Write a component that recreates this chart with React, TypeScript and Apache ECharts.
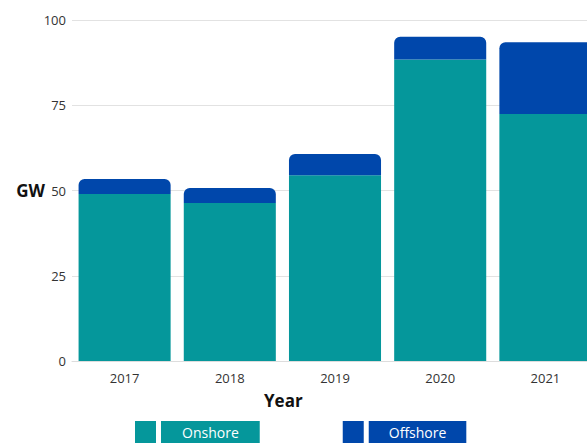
import React, { useEffect, useRef } from "react";
import * as echarts from "echarts";

const years = ["2017", "2018", "2019", "2020", "2021"];
const onshore = [49.0, 46.3, 54.5, 88.4, 72.4];
const offshore = [4.4, 4.4, 6.2, 6.7, 21.1];
const yTicks = { min: 0, max: 100, interval: 25 };

const TEAL = "#05979b";
const BLUE = "#0047ab";
const FONT = "Open Sans";

export default function App() {
  const ref = useRef<HTMLDivElement>(null);
  useEffect(() => {
    if (!ref.current) return;
    const chart = echarts.init(ref.current, null, { renderer: "svg" });
    chart.setOption({
      animation: false,
      textStyle: { fontFamily: FONT },
      grid: { left: 72, right: 22, top: 20, bottom: 82, containLabel: false },
      legend: {
        left: 130,
        top: 416,
        itemGap: 83,
        itemWidth: 21,
        itemHeight: 22,
        icon: "rect",
        data: [
          {
            name: "Onshore",
            textStyle: {
              color: "#fff",
              backgroundColor: TEAL,
              fontSize: 14,
              fontFamily: FONT,
              padding: [4, 21, 2, 21],
              lineHeight: 16,
            },
          },
          {
            name: "Offshore",
            textStyle: {
              color: "#fff",
              backgroundColor: BLUE,
              fontSize: 14,
              fontFamily: FONT,
              padding: [4, 20, 2, 20],
              lineHeight: 16,
            },
          },
        ],
      },
      xAxis: {
        type: "category",
        data: years,
        axisTick: { show: false },
        axisLine: { show: true, lineStyle: { color: "#dddddd" } },
        axisLabel: { color: "#333", fontSize: 13, margin: 10, fontFamily: FONT },
      },
      yAxis: {
        type: "value",
        min: yTicks.min,
        max: yTicks.max,
        interval: yTicks.interval,
        name: "GW",
        nameLocation: "middle",
        nameRotate: 0,
        nameGap: 27,
        nameMoveOverlap: false,
        nameTextStyle: { fontSize: 17, fontWeight: "bold", color: "#111", fontFamily: FONT, padding: [6, 0, 0, 0] },
        axisLabel: { color: "#333", fontSize: 13, margin: 6, fontFamily: FONT },
        splitLine: { lineStyle: { color: "#e2e2e2" } },
        axisLine: { show: false },
        axisTick: { show: false },
      },
      graphic: [
        {
          type: "text",
          left: 264,
          top: 392,
          style: { text: "Year", fontSize: 17, fontWeight: "bold", fill: "#111", fontFamily: FONT },
        },
      ],
      series: [
        {
          name: "Onshore",
          type: "bar",
          stack: "total",
          data: onshore,
          barCategoryGap: "12.5%",
          itemStyle: { color: TEAL },
        },
        {
          name: "Offshore",
          type: "bar",
          stack: "total",
          data: offshore,
          barCategoryGap: "12.5%",
          itemStyle: { color: BLUE, borderRadius: [6, 6, 0, 0] },
        },
      ],
    });
    return () => chart.dispose();
  }, []);
  return (
    <div
      style={{
        position: "fixed",
        left: 0,
        top: 0,
        width: 587,
        height: 443,
        overflow: "hidden",
        background: "#fff",
      }}
    >
      <div ref={ref} style={{ width: 620, height: 443 }} />
    </div>
  );
}
